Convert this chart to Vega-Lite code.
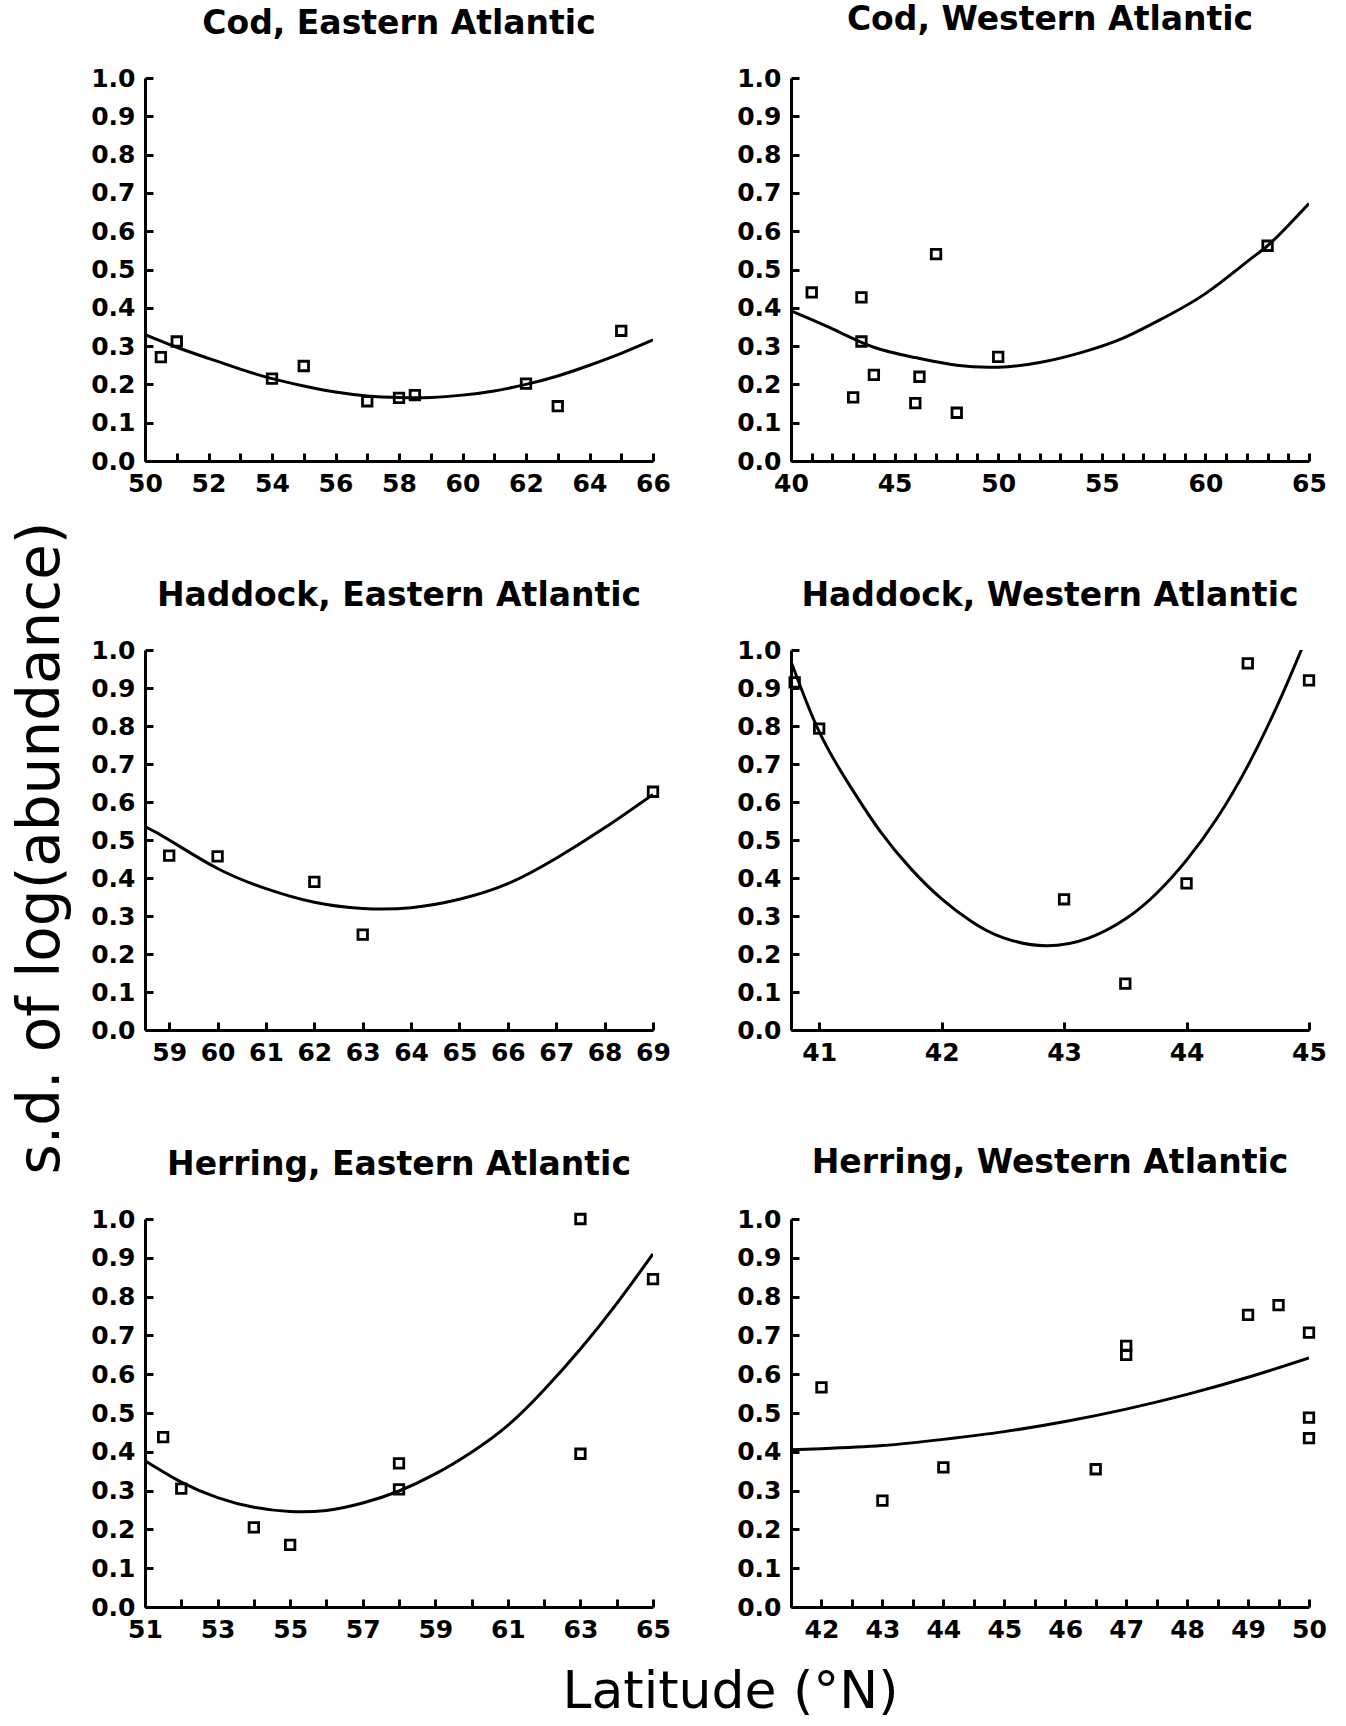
{
  "$schema": "https://vega.github.io/schema/vega-lite/v6.json",
  "background": "white",
  "padding": {"left": 12, "top": 4, "right": 5, "bottom": 0},
  "title": {"text": "s.d. of log(abundance)", "orient": "left", "anchor": "middle", "frame": "bounds", "font": "DejaVu Sans", "fontSize": 58, "fontWeight": "normal", "color": "black", "offset": 20, "dx": 13},
  "config": {
    "view": {"stroke": null},
    "title": {"anchor": "middle", "frame": "group", "font": "DejaVu Sans", "fontSize": 33, "fontWeight": "bold", "color": "black", "baseline": "bottom", "offset": 25},
    "axis": {"domainColor": "black", "domainWidth": 3, "tickColor": "black", "tickWidth": 3, "tickSize": -8, "labelPadding": 18, "labelFont": "DejaVu Sans", "labelFontWeight": "bold", "labelFontSize": 25, "labelColor": "black", "grid": false, "labelFlush": false, "labelOverlap": false}
  },
  "datasets": {
    "pts": [
      {"p": "CE", "lat": 50.5, "sd": 0.271}, {"p": "CE", "lat": 51, "sd": 0.312}, {"p": "CE", "lat": 54, "sd": 0.215}, {"p": "CE", "lat": 55, "sd": 0.248}, {"p": "CE", "lat": 57, "sd": 0.156}, {"p": "CE", "lat": 58, "sd": 0.165}, {"p": "CE", "lat": 58.5, "sd": 0.172}, {"p": "CE", "lat": 62, "sd": 0.202}, {"p": "CE", "lat": 63, "sd": 0.143}, {"p": "CE", "lat": 65, "sd": 0.34},
      {"p": "CW", "lat": 41, "sd": 0.44}, {"p": "CW", "lat": 43.4, "sd": 0.427}, {"p": "CW", "lat": 43.4, "sd": 0.312}, {"p": "CW", "lat": 44, "sd": 0.225}, {"p": "CW", "lat": 43, "sd": 0.166}, {"p": "CW", "lat": 46.2, "sd": 0.22}, {"p": "CW", "lat": 46, "sd": 0.151}, {"p": "CW", "lat": 47, "sd": 0.54}, {"p": "CW", "lat": 48, "sd": 0.126}, {"p": "CW", "lat": 50, "sd": 0.272}, {"p": "CW", "lat": 63, "sd": 0.562},
      {"p": "HE", "lat": 59, "sd": 0.459}, {"p": "HE", "lat": 60, "sd": 0.457}, {"p": "HE", "lat": 62, "sd": 0.39}, {"p": "HE", "lat": 63, "sd": 0.251}, {"p": "HE", "lat": 69, "sd": 0.627},
      {"p": "HW", "lat": 40.8, "sd": 0.915}, {"p": "HW", "lat": 41, "sd": 0.793}, {"p": "HW", "lat": 43, "sd": 0.344}, {"p": "HW", "lat": 43.5, "sd": 0.122}, {"p": "HW", "lat": 44, "sd": 0.386}, {"p": "HW", "lat": 44.5, "sd": 0.965}, {"p": "HW", "lat": 45, "sd": 0.92},
      {"p": "RE", "lat": 51.5, "sd": 0.438}, {"p": "RE", "lat": 52, "sd": 0.305}, {"p": "RE", "lat": 54, "sd": 0.205}, {"p": "RE", "lat": 55, "sd": 0.16}, {"p": "RE", "lat": 58, "sd": 0.37}, {"p": "RE", "lat": 58, "sd": 0.303}, {"p": "RE", "lat": 63, "sd": 1.0}, {"p": "RE", "lat": 63, "sd": 0.395}, {"p": "RE", "lat": 65, "sd": 0.845},
      {"p": "RW", "lat": 42, "sd": 0.566}, {"p": "RW", "lat": 43, "sd": 0.274}, {"p": "RW", "lat": 44, "sd": 0.36}, {"p": "RW", "lat": 46.5, "sd": 0.355}, {"p": "RW", "lat": 47, "sd": 0.673}, {"p": "RW", "lat": 47, "sd": 0.65}, {"p": "RW", "lat": 49, "sd": 0.753}, {"p": "RW", "lat": 49.5, "sd": 0.778}, {"p": "RW", "lat": 50, "sd": 0.707}, {"p": "RW", "lat": 50, "sd": 0.488}, {"p": "RW", "lat": 50, "sd": 0.435}
    ],
    "fit": [
      {"p": "CE", "lat": 50, "sd": 0.33}, {"p": "CE", "lat": 51, "sd": 0.297}, {"p": "CE", "lat": 52, "sd": 0.268}, {"p": "CE", "lat": 53, "sd": 0.24}, {"p": "CE", "lat": 54, "sd": 0.215}, {"p": "CE", "lat": 55, "sd": 0.196}, {"p": "CE", "lat": 56, "sd": 0.18}, {"p": "CE", "lat": 57, "sd": 0.17}, {"p": "CE", "lat": 58, "sd": 0.166}, {"p": "CE", "lat": 59, "sd": 0.166}, {"p": "CE", "lat": 60, "sd": 0.172}, {"p": "CE", "lat": 61, "sd": 0.183}, {"p": "CE", "lat": 62, "sd": 0.2}, {"p": "CE", "lat": 63, "sd": 0.222}, {"p": "CE", "lat": 64, "sd": 0.25}, {"p": "CE", "lat": 65, "sd": 0.281}, {"p": "CE", "lat": 66, "sd": 0.316},
      {"p": "CW", "lat": 40, "sd": 0.392}, {"p": "CW", "lat": 42, "sd": 0.345}, {"p": "CW", "lat": 44, "sd": 0.297}, {"p": "CW", "lat": 46, "sd": 0.27}, {"p": "CW", "lat": 48, "sd": 0.25}, {"p": "CW", "lat": 50, "sd": 0.245}, {"p": "CW", "lat": 52, "sd": 0.257}, {"p": "CW", "lat": 54, "sd": 0.283}, {"p": "CW", "lat": 56, "sd": 0.32}, {"p": "CW", "lat": 58, "sd": 0.374}, {"p": "CW", "lat": 60, "sd": 0.437}, {"p": "CW", "lat": 62, "sd": 0.52}, {"p": "CW", "lat": 63, "sd": 0.562}, {"p": "CW", "lat": 64, "sd": 0.615}, {"p": "CW", "lat": 65, "sd": 0.672},
      {"p": "HE", "lat": 58.5, "sd": 0.535}, {"p": "HE", "lat": 59, "sd": 0.5}, {"p": "HE", "lat": 60, "sd": 0.425}, {"p": "HE", "lat": 61, "sd": 0.372}, {"p": "HE", "lat": 62, "sd": 0.336}, {"p": "HE", "lat": 63, "sd": 0.32}, {"p": "HE", "lat": 64, "sd": 0.322}, {"p": "HE", "lat": 65, "sd": 0.344}, {"p": "HE", "lat": 66, "sd": 0.385}, {"p": "HE", "lat": 67, "sd": 0.452}, {"p": "HE", "lat": 68, "sd": 0.532}, {"p": "HE", "lat": 69, "sd": 0.62},
      {"p": "HW", "lat": 40.77, "sd": 0.97}, {"p": "HW", "lat": 41, "sd": 0.785}, {"p": "HW", "lat": 41.25, "sd": 0.643}, {"p": "HW", "lat": 41.5, "sd": 0.522}, {"p": "HW", "lat": 41.75, "sd": 0.424}, {"p": "HW", "lat": 42, "sd": 0.345}, {"p": "HW", "lat": 42.25, "sd": 0.284}, {"p": "HW", "lat": 42.5, "sd": 0.243}, {"p": "HW", "lat": 42.85, "sd": 0.222}, {"p": "HW", "lat": 43.2, "sd": 0.242}, {"p": "HW", "lat": 43.5, "sd": 0.292}, {"p": "HW", "lat": 43.75, "sd": 0.358}, {"p": "HW", "lat": 44, "sd": 0.447}, {"p": "HW", "lat": 44.25, "sd": 0.558}, {"p": "HW", "lat": 44.5, "sd": 0.695}, {"p": "HW", "lat": 44.75, "sd": 0.86}, {"p": "HW", "lat": 44.95, "sd": 1.01},
      {"p": "RE", "lat": 51, "sd": 0.377}, {"p": "RE", "lat": 52, "sd": 0.322}, {"p": "RE", "lat": 53, "sd": 0.282}, {"p": "RE", "lat": 54, "sd": 0.257}, {"p": "RE", "lat": 55, "sd": 0.246}, {"p": "RE", "lat": 56, "sd": 0.249}, {"p": "RE", "lat": 57, "sd": 0.268}, {"p": "RE", "lat": 58, "sd": 0.299}, {"p": "RE", "lat": 59, "sd": 0.343}, {"p": "RE", "lat": 60, "sd": 0.399}, {"p": "RE", "lat": 61, "sd": 0.468}, {"p": "RE", "lat": 62, "sd": 0.56}, {"p": "RE", "lat": 63, "sd": 0.665}, {"p": "RE", "lat": 64, "sd": 0.782}, {"p": "RE", "lat": 65, "sd": 0.91},
      {"p": "RW", "lat": 41.5, "sd": 0.405}, {"p": "RW", "lat": 42, "sd": 0.408}, {"p": "RW", "lat": 43, "sd": 0.416}, {"p": "RW", "lat": 44, "sd": 0.432}, {"p": "RW", "lat": 45, "sd": 0.452}, {"p": "RW", "lat": 46, "sd": 0.478}, {"p": "RW", "lat": 47, "sd": 0.51}, {"p": "RW", "lat": 48, "sd": 0.548}, {"p": "RW", "lat": 49, "sd": 0.592}, {"p": "RW", "lat": 50, "sd": 0.642}
    ]
  },
  "vconcat": [
    {
      "title": {"text": "Latitude (°N)", "orient": "bottom", "anchor": "middle", "frame": "bounds", "baseline": "top", "font": "DejaVu Sans", "fontSize": 52, "fontWeight": "normal", "color": "black", "offset": 25, "dx": 22},
      "columns": 2,
      "bounds": "flush",
      "spacing": {"row": 189, "column": 138},
      "concat": [
        {
          "title": {"text": "Cod, Eastern Atlantic"},
          "width": 508, "height": 383,
          "encoding": {
            "x": {"field": "lat", "type": "quantitative", "title": null, "scale": {"domain": [50, 66], "nice": false, "zero": false}, "axis": {"values": [50,51,52,53,54,55,56,57,58,59,60,61,62,63,64,65,66], "labelExpr": "datum.value % 2 == 0 ? datum.label : ''"}},
            "y": {"field": "sd", "type": "quantitative", "title": null, "scale": {"domain": [0, 1], "nice": false}, "axis": {"values": [0,0.1,0.2,0.3,0.4,0.5,0.6,0.7,0.8,0.9,1], "format": ".1f"}}
          },
          "layer": [
            {"data": {"name": "fit"}, "transform": [{"filter": "datum.p == 'CE'"}], "mark": {"type": "line", "interpolate": "natural", "color": "black", "strokeWidth": 3, "clip": true}},
            {"data": {"name": "pts"}, "transform": [{"filter": "datum.p == 'CE'"}], "mark": {"type": "point", "shape": "square", "filled": false, "size": 90, "stroke": "black", "strokeWidth": 2.8, "opacity": 1}}
          ]
        },
        {
          "title": {"text": "Cod, Western Atlantic", "offset": 29},
          "width": 518, "height": 383,
          "encoding": {
            "x": {"field": "lat", "type": "quantitative", "title": null, "scale": {"domain": [40, 65], "nice": false, "zero": false}, "axis": {"values": [40,41,42,43,44,45,46,47,48,49,50,51,52,53,54,55,56,57,58,59,60,61,62,63,64,65], "labelExpr": "datum.value % 5 == 0 ? datum.label : ''"}},
            "y": {"field": "sd", "type": "quantitative", "title": null, "scale": {"domain": [0, 1], "nice": false}, "axis": {"values": [0,0.1,0.2,0.3,0.4,0.5,0.6,0.7,0.8,0.9,1], "format": ".1f"}}
          },
          "layer": [
            {"data": {"name": "fit"}, "transform": [{"filter": "datum.p == 'CW'"}], "mark": {"type": "line", "interpolate": "natural", "color": "black", "strokeWidth": 3, "clip": true}},
            {"data": {"name": "pts"}, "transform": [{"filter": "datum.p == 'CW'"}], "mark": {"type": "point", "shape": "square", "filled": false, "size": 90, "stroke": "black", "strokeWidth": 2.8, "opacity": 1}}
          ]
        },
        {
          "title": {"text": "Haddock, Eastern Atlantic"},
          "width": 508, "height": 380,
          "encoding": {
            "x": {"field": "lat", "type": "quantitative", "title": null, "scale": {"domain": [58.5, 69], "nice": false, "zero": false}, "axis": {"values": [59,60,61,62,63,64,65,66,67,68,69]}},
            "y": {"field": "sd", "type": "quantitative", "title": null, "scale": {"domain": [0, 1], "nice": false}, "axis": {"values": [0,0.1,0.2,0.3,0.4,0.5,0.6,0.7,0.8,0.9,1], "format": ".1f"}}
          },
          "layer": [
            {"data": {"name": "fit"}, "transform": [{"filter": "datum.p == 'HE'"}], "mark": {"type": "line", "interpolate": "natural", "color": "black", "strokeWidth": 3, "clip": true}},
            {"data": {"name": "pts"}, "transform": [{"filter": "datum.p == 'HE'"}], "mark": {"type": "point", "shape": "square", "filled": false, "size": 90, "stroke": "black", "strokeWidth": 2.8, "opacity": 1}}
          ]
        },
        {
          "title": {"text": "Haddock, Western Atlantic"},
          "width": 518, "height": 380,
          "encoding": {
            "x": {"field": "lat", "type": "quantitative", "title": null, "scale": {"domain": [40.77, 45], "nice": false, "zero": false}, "axis": {"values": [41,42,43,44,45]}},
            "y": {"field": "sd", "type": "quantitative", "title": null, "scale": {"domain": [0, 1], "nice": false}, "axis": {"values": [0,0.1,0.2,0.3,0.4,0.5,0.6,0.7,0.8,0.9,1], "format": ".1f"}}
          },
          "layer": [
            {"data": {"name": "fit"}, "transform": [{"filter": "datum.p == 'HW'"}], "mark": {"type": "line", "interpolate": "natural", "color": "black", "strokeWidth": 3, "clip": true}},
            {"data": {"name": "pts"}, "transform": [{"filter": "datum.p == 'HW'"}], "mark": {"type": "point", "shape": "square", "filled": false, "size": 90, "stroke": "black", "strokeWidth": 2.8, "opacity": 1}}
          ]
        },
        {
          "title": {"text": "Herring, Eastern Atlantic"},
          "width": 508, "height": 388,
          "encoding": {
            "x": {"field": "lat", "type": "quantitative", "title": null, "scale": {"domain": [51, 65], "nice": false, "zero": false}, "axis": {"values": [51,52,53,54,55,56,57,58,59,60,61,62,63,64,65], "labelExpr": "datum.value % 2 == 1 ? datum.label : ''"}},
            "y": {"field": "sd", "type": "quantitative", "title": null, "scale": {"domain": [0, 1], "nice": false}, "axis": {"values": [0,0.1,0.2,0.3,0.4,0.5,0.6,0.7,0.8,0.9,1], "format": ".1f"}}
          },
          "layer": [
            {"data": {"name": "fit"}, "transform": [{"filter": "datum.p == 'RE'"}], "mark": {"type": "line", "interpolate": "natural", "color": "black", "strokeWidth": 3, "clip": true}},
            {"data": {"name": "pts"}, "transform": [{"filter": "datum.p == 'RE'"}], "mark": {"type": "point", "shape": "square", "filled": false, "size": 90, "stroke": "black", "strokeWidth": 2.8, "opacity": 1}}
          ]
        },
        {
          "title": {"text": "Herring, Western Atlantic", "offset": 27},
          "width": 518, "height": 388,
          "encoding": {
            "x": {"field": "lat", "type": "quantitative", "title": null, "scale": {"domain": [41.5, 50], "nice": false, "zero": false}, "axis": {"values": [41.5,42,42.5,43,43.5,44,44.5,45,45.5,46,46.5,47,47.5,48,48.5,49,49.5,50], "labelExpr": "datum.value % 1 == 0 ? format(datum.value, 'd') : ''"}},
            "y": {"field": "sd", "type": "quantitative", "title": null, "scale": {"domain": [0, 1], "nice": false}, "axis": {"values": [0,0.1,0.2,0.3,0.4,0.5,0.6,0.7,0.8,0.9,1], "format": ".1f"}}
          },
          "layer": [
            {"data": {"name": "fit"}, "transform": [{"filter": "datum.p == 'RW'"}], "mark": {"type": "line", "interpolate": "natural", "color": "black", "strokeWidth": 3, "clip": true}},
            {"data": {"name": "pts"}, "transform": [{"filter": "datum.p == 'RW'"}], "mark": {"type": "point", "shape": "square", "filled": false, "size": 90, "stroke": "black", "strokeWidth": 2.8, "opacity": 1}}
          ]
        }
      ]
    }
  ]
}
